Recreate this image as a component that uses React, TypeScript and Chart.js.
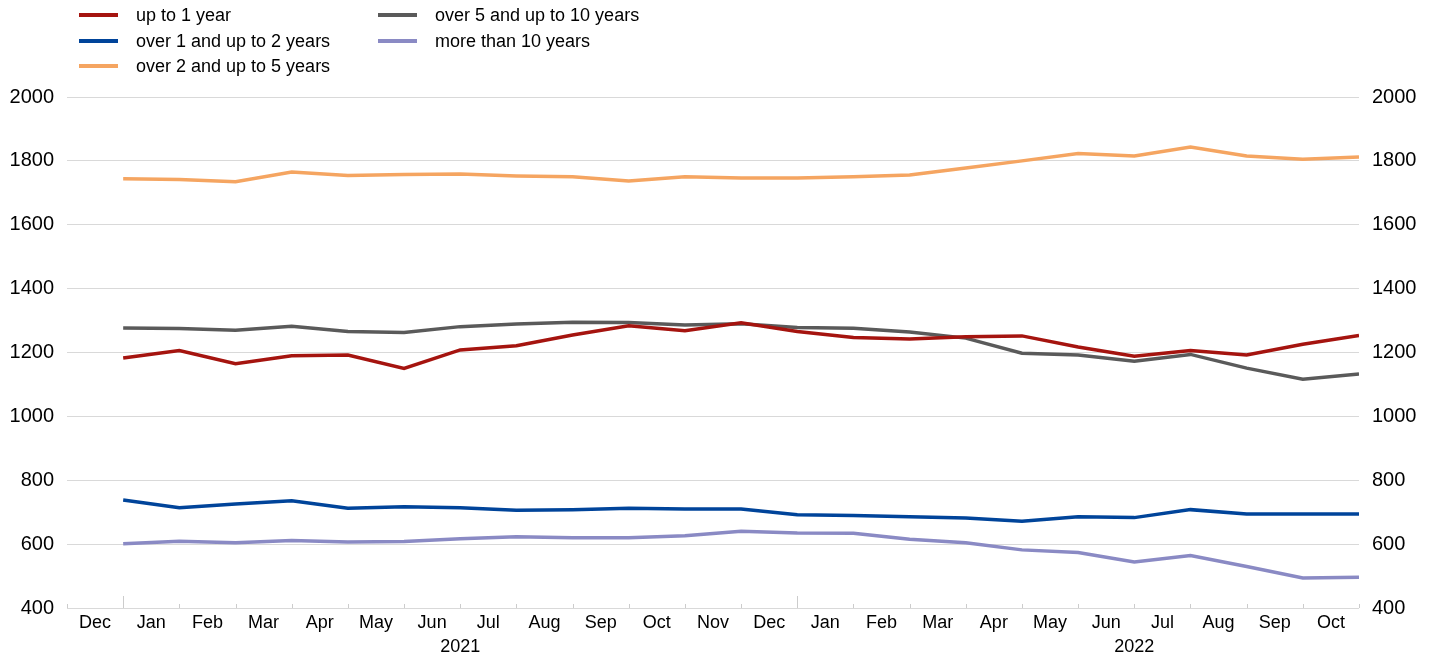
import React, { useEffect, useRef } from "react";
import { Chart, registerables } from "chart.js";

Chart.register(...registerables);

// Month categories (each label sits in the middle of its month span)
const months = [
  "Dec", "Jan", "Feb", "Mar", "Apr", "May", "Jun", "Jul", "Aug", "Sep", "Oct", "Nov",
  "Dec", "Jan", "Feb", "Mar", "Apr", "May", "Jun", "Jul", "Aug", "Sep", "Oct",
];
const years = ["2021", "2022"];

// End-of-month values (first point = end of Dec 2020)
const upTo1Year = [1183, 1206, 1165, 1190, 1192, 1150, 1208, 1221, 1255, 1284, 1268, 1293, 1266, 1247, 1242, 1249, 1252, 1217, 1188, 1206, 1192, 1226, 1253];
const over1UpTo2 = [738, 714, 726, 736, 712, 717, 714, 706, 708, 712, 710, 710, 692, 690, 686, 682, 672, 686, 683, 708, 694, 694, 694];
const over2UpTo5 = [1744, 1742, 1735, 1765, 1754, 1757, 1759, 1753, 1750, 1737, 1750, 1746, 1746, 1750, 1756, 1778, 1800, 1823, 1815, 1843, 1815, 1805, 1812];
const over5UpTo10 = [1277, 1275, 1270, 1282, 1266, 1263, 1281, 1289, 1295, 1294, 1286, 1290, 1278, 1276, 1264, 1245, 1198, 1192, 1173, 1194, 1151, 1116, 1133];
const moreThan10 = [601, 609, 604, 611, 607, 608, 617, 623, 620, 620, 626, 640, 635, 634, 615, 604, 582, 574, 544, 564, 530, 494, 496];

const yTicks = [400, 600, 800, 1000, 1200, 1400, 1600, 1800, 2000];

const seriesNames = [
  "up to 1 year",
  "over 1 and up to 2 years",
  "over 2 and up to 5 years",
  "over 5 and up to 10 years",
  "more than 10 years",
];
const seriesValues = [upTo1Year, over1UpTo2, over2UpTo5, over5UpTo10, moreThan10];
const seriesColors = ["#a5140f", "#00449a", "#f5a561", "#5a5a5a", "#8a8ac4"];

const FONT = "'Liberation Sans', Arial, Helvetica, sans-serif";

// year label positions derived from where each "Jan" starts (centre of 12 months)
const janStarts = months.map((m, i) => (m === "Jan" ? i : -1)).filter((i) => i >= 0);

const boundaryTicks = {
  id: "boundaryTicks",
  beforeDatasetsDraw(chart: any) {
    const { ctx, chartArea } = chart;
    const x = chart.scales.x;
    ctx.save();
    ctx.strokeStyle = "#cccccc";
    ctx.lineWidth = 1;
    for (let i = 0; i <= months.length; i++) {
      const px = Math.round(x.getPixelForValue(i)) + 0.5;
      const len = months[i] === "Jan" ? 12 : 4;
      ctx.beginPath();
      ctx.moveTo(px, chartArea.bottom);
      ctx.lineTo(px, chartArea.bottom - len);
      ctx.stroke();
    }
    ctx.restore();
  },
};

export default function App() {
  const canvasRef = useRef<HTMLCanvasElement | null>(null);

  useEffect(() => {
    if (!canvasRef.current) return;
    const labelMap = new Map<number, string | string[]>();
    months.forEach((m, i) => labelMap.set(i + 0.5, m));
    janStarts.forEach((s, k) => {
      if (years[k]) labelMap.set(s + 6, ["", years[k]]);
    });

    const chart = new Chart(canvasRef.current, {
      type: "line",
      data: {
        datasets: seriesValues.map((vals, k) => ({
          label: seriesNames[k],
          data: vals.map((v, i) => ({ x: i + 1, y: v })),
          borderColor: seriesColors[k],
          backgroundColor: seriesColors[k],
          borderWidth: 3.5,
          pointRadius: 0,
          tension: 0,
          fill: false,
        })),
      },
      options: {
        responsive: false,
        animation: false,
        layout: { padding: { top: 97, left: 0, right: 0, bottom: 0 } },
        plugins: {
          legend: { display: false },
          tooltip: { enabled: false },
        },
        scales: {
          x: {
            type: "linear",
            position: "bottom",
            min: 0,
            max: months.length,
            grid: { display: false, drawTicks: false },
            border: { display: false },
            afterBuildTicks: (scale: any) => {
              scale.ticks = Array.from(labelMap.keys())
                .sort((a, b) => a - b)
                .map((v) => ({ value: v }));
            },
            afterFit: (scale: any) => {
              scale.height = 49;
            },
            ticks: {
              autoSkip: false,
              maxRotation: 0,
              minRotation: 0,
              padding: 3,
              color: "#000",
              font: { family: FONT, size: 18, lineHeight: 1.35 },
              callback: (value: any) => labelMap.get(Number(value)) ?? "",
            },
          },
          y: {
            position: "left",
            min: 400,
            max: 2000,
            afterBuildTicks: (scale: any) => {
              scale.ticks = yTicks.map((v) => ({ value: v }));
            },
            afterFit: (scale: any) => {
              scale.width = 67;
            },
            grid: { color: "#d9d9d9", lineWidth: 1, drawTicks: false },
            border: { display: false },
            ticks: {
              padding: 13,
              color: "#000",
              font: { family: FONT, size: 20 },
              callback: (value: any) => String(value),
            },
          },
          y2: {
            position: "right",
            min: 400,
            max: 2000,
            afterBuildTicks: (scale: any) => {
              scale.ticks = yTicks.map((v) => ({ value: v }));
            },
            afterFit: (scale: any) => {
              scale.width = 78;
            },
            grid: { display: false, drawTicks: false },
            border: { display: false },
            ticks: {
              padding: 13,
              color: "#000",
              font: { family: FONT, size: 20 },
              callback: (value: any) => String(value),
            },
          },
        },
      } as any,
      plugins: [boundaryTicks],
    });
    return () => chart.destroy();
  }, []);

  const legendPos = [
    { left: 79, top: 15 },
    { left: 79, top: 41 },
    { left: 79, top: 66 },
    { left: 378, top: 15 },
    { left: 378, top: 41 },
  ];

  return (
    <div style={{ position: "absolute", left: 0, top: 0, width: 1437, height: 657, background: "#fff" }}>
      <canvas ref={canvasRef} width={1437} height={657} style={{ position: "absolute", left: 0, top: 0 }} />
      {seriesNames.map((name, k) => (
        <div
          key={name}
          style={{
            position: "absolute",
            left: legendPos[k].left,
            top: legendPos[k].top - 12,
            height: 24,
            display: "flex",
            alignItems: "center",
            fontFamily: FONT,
            fontSize: 18,
            color: "#000",
            whiteSpace: "nowrap",
          }}
        >
          <span style={{ display: "inline-block", width: 39, height: 4, background: seriesColors[k], marginRight: 18 }} />
          <span>{name}</span>
        </div>
      ))}
    </div>
  );
}
